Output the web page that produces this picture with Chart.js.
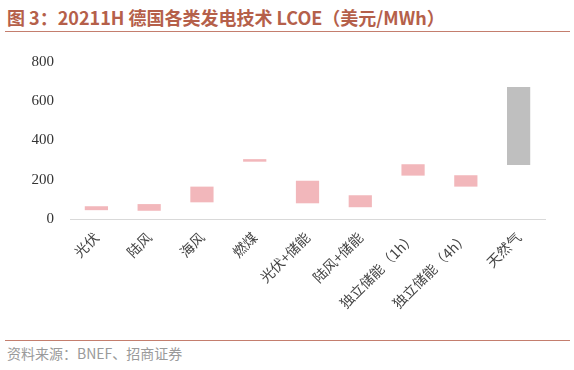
<!DOCTYPE html>
<html>
<head>
<meta charset="utf-8">
<script src="https://cdn.jsdelivr.net/npm/chart.js@4.4.0/dist/chart.umd.min.js"></script>
<style>
    body { margin: 0; background: #fff; width: 574px; height: 370px; position: relative; overflow: hidden; }
    .title { position: absolute; left: 7px; top: 4px; font: bold 18px "Noto Sans CJK SC", sans-serif; color: #b5604a; white-space: nowrap; }
    .rule { position: absolute; left: 5px; width: 565px; height: 1px; background: #c47e6e; }
    .source { position: absolute; left: 7px; top: 343px; font: 14px "Noto Sans CJK SC", sans-serif; color: #9a9a9a; white-space: nowrap; }
    .wrap { position: absolute; left: 0; top: 40px; width: 574px; height: 298px; }
</style>
</head>
<body>
<div class="title">图 3：20211H 德国各类发电技术 LCOE（美元/MWh）</div>
<div class="rule" style="top:31px"></div>
<div class="wrap"><canvas id="lcoe"></canvas></div>
<div class="rule" style="top:340px"></div>
<div class="source">资料来源：BNEF、招商证券</div>
<script>
    // LCOE ranges, USD/MWh
    var categories = ["光伏", "陆风", "海风", "燃煤", "光伏+储能", "陆风+储能", "独立储能（1h）", "独立储能（4h）", "天然气"];
    var lowValues = [45, 42, 85, 292, 80, 60, 221, 165, 275];
    var highValues = [65, 76, 165, 305, 195, 121, 279, 223, 672];
    var yTicks = [0, 200, 400, 600, 800];

    var ranges = categories.map(function (c, i) {
        return [lowValues[i], highValues[i]];
    });
    var colors = categories.map(function (c) {
        return c === "天然气" ? "#bfbfbf" : "#f2b7bb";
    });

    var ctx = document.getElementById("lcoe").getContext("2d");
    var lcoeChart = new Chart(ctx, {
        type: "bar",
        data: {
            labels: categories,
            datasets: [{
                data: ranges,
                backgroundColor: colors,
                borderWidth: 0,
                barPercentage: 0.44,
                categoryPercentage: 1
            }]
        },
        options: {
            responsive: true,
            maintainAspectRatio: false,
            animation: false,
            layout: { padding: { top: 22, right: 29, left: 0, bottom: 0 } },
            plugins: { legend: { display: false }, tooltip: { enabled: false } },
            scales: {
                x: {
                    grid: { display: false },
                    border: { color: "#d9d9d9", width: 1 },
                    ticks: {
                        minRotation: 45,
                        maxRotation: 45,
                        padding: 2,
                        color: "#444",
                        font: { family: "Noto Sans CJK SC", size: 14 }
                    },
                    afterFit: function (scale) { scale.height = 119; }
                },
                y: {
                    min: 0,
                    max: 800,
                    grid: { display: false },
                    border: { display: false },
                    afterBuildTicks: function (scale) {
                        scale.ticks = yTicks.map(function (v) { return { value: v }; });
                    },
                    ticks: {
                        padding: 8,
                        color: "#333",
                        font: { family: "Liberation Serif", size: 15 }
                    },
                    afterFit: function (scale) { scale.width = 70; }
                }
            }
        }
    });
</script>
</body>
</html>
